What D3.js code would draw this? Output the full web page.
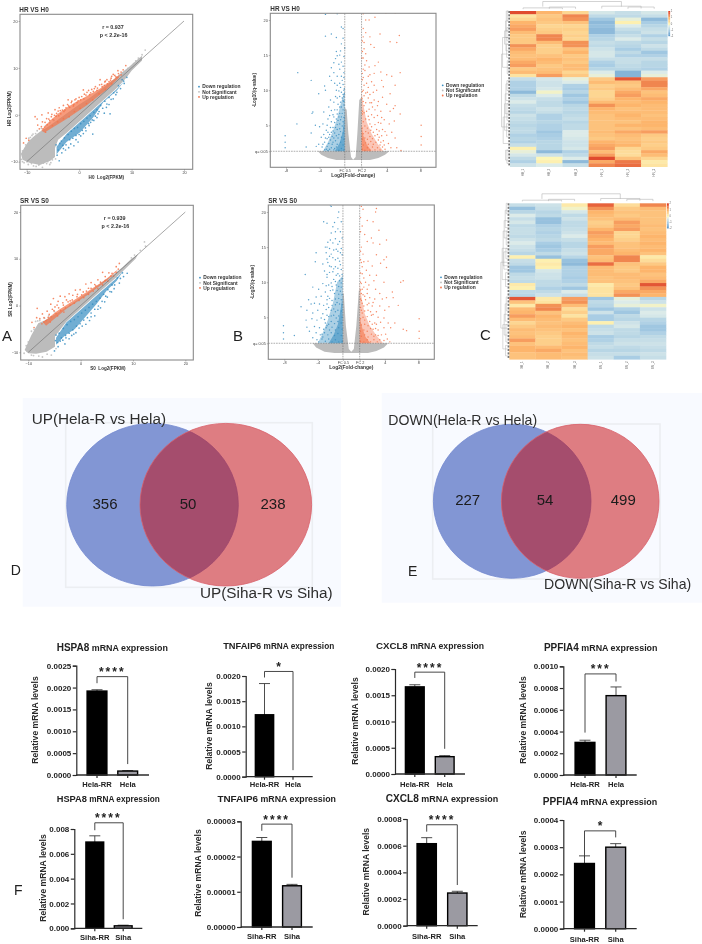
<!DOCTYPE html>
<html>
<head>
<meta charset="UTF-8">
<title>Hela-R and Siha-R expression panels</title>
<script src="https://d3js.org/d3.v7.min.js"></script>
<style>
  html, body { margin: 0; padding: 0; background: #fff; }
  svg { display: block; font-family: "Liberation Sans", Arial, sans-serif; }
</style>
</head>
<body>
<svg id="fig" width="702" height="944"></svg>
<script>
// ---- values ----

var legendNames = ["Down regulation", "Not Significant", "Up regulation"];
var scatterTicks = [-10, 0, 10, 20];
var volcanoXTicks = [-8, -4, -1, 1, 4, 8];
var volcanoYTicks = [1.3, 5, 10, 15, 20];

// scatter HR vs H0: dense clouds as envelopes, loose points one by one
var hrGreyCloud = [[-11.1,-8.3],[-10.4,-6.9],[-9.7,-5.7],[-8.6,-4.6],[-7.5,-3.6],[-6,-2.6],[-4,-1],[-2,.6],[0,2.2],[2,3.6],[4,5.3],[6,7],[8,8.9],[9.5,10.2],[11,11.7],[12,12.6],[12,11.6],[10,9.4],[9,7.9],[7.2,5.7],[4,2.5],[.8,-.7],[-2.4,-3.9],[-4,-5.3],[-4.6,-7.1],[-4.6,-9],[-5.5,-9.8],[-7.5,-10.7],[-9.5,-10.2],[-10.8,-9.6]];
var hrUpCloud = [[-7.2,-3.4],[-6.2,-2],[-5.3,-1],[-4,.3],[-2.4,1.5],[-.8,2.6],[.8,3.6],[2.4,4.6],[4,5.6],[5.2,6.6],[6.5,7.5],[7.8,8.6],[7.6,7.9],[5.3,5.4],[1.4,2],[-2.4,-.9],[-6.6,-3.8]];
var hrDownCloud = [[-4.3,-6.8],[-2.4,-4.1],[.8,-.9],[4,2.3],[7.2,5.5],[8.7,7.3],[7.2,5.2],[4.6,2.7],[2.7,-.5],[.2,-3.7],[-2.4,-5.8],[-4.3,-8.4]];
var hrUpPoints = [[-10.6,-6],[-10.1,-5],[-9.6,-5.4],[-8.4,-.4],[-8,-.9],[-7.9,-2.2],[-7.6,-3],[-7.1,0],[-7,-1.5],[-6.6,-2.6],[-6.2,-.8],[-5.9,.4],[-5.6,-1.2],[-5.2,.1],[-4.6,1.1],[-4.4,-.3],[-4,.8],[-3.8,1.5],[-3.5,.2],[-3,2],[-2.7,1],[-2.1,3.2],[-2,1.9],[-1.5,2.6],[-1,2.2],[-.6,3.4],[-.2,3],[.3,3.2],[.8,5.3],[1,4.4],[1.5,4.8],[2,4.3],[2.4,5.4],[2.9,5.6],[3.4,5.2],[4,7.5],[4.3,6.5],[4.8,6.3],[5,7.2],[5.4,6.6],[6,7.4],[6.2,8.2],[6.8,8.4],[7.2,8],[7.4,9.4],[8,9.1],[8.9,10.5],[8.4,9.6]];
var hrUpEdge = [[-7.2,-2.5],[-6.9,-3],[-6.5,-1.6],[-6.1,-2.1],[-5.8,-.9],[-5.3,-.4],[-5,-1],[-4.7,-.1],[-4.3,.3],[-3.9,-.2],[-3.6,.9],[-3.2,1],[-2.9,.7],[-2.5,1.5],[-2.2,2.2],[-1.8,1.6],[-1.4,2.9],[-1.1,1.9],[-.8,3.2],[-.4,2.6],[0,3.7],[.5,3.9],[.9,3.4],[1.3,4.2],[1.8,5.2],[2.2,4.7],[2.7,5],[3.1,6],[3.5,5.7],[3.9,6.4],[4.4,6],[4.9,7],[5.3,7.5],[5.7,7.1],[6.1,7.8],[6.5,8.6],[7,8.1],[7.5,8.8],[8,8.5],[-6.4,-3.7],[-5.1,-2.3],[-4.1,-1.5],[-3,-.8],[-1.9,-.4],[-.9,.7],[.2,1.4],[1.4,2.4],[2.6,3.2],[3.8,4.5],[5,5.4],[6.2,6.6]];
var hrDownPoints = [[-4.2,-8.6],[-3.8,-9.8],[-3.3,-8.1],[-3,-7.2],[-2.6,-7.5],[-2,-7],[-1.6,-6.2],[-1,-6.6],[-.6,-5.3],[-.2,-5.8],[.3,-4.5],[.8,-4],[1.3,-3.4],[2.6,-4.1],[1.9,-2.3],[2.2,-1.6],[2.8,-1.2],[3.4,-.6],[3.6,.2],[4.8,.35],[5.9,.2],[5.2,1.6],[5.7,2.2],[6.5,3.4],[7.2,4.8],[8.2,7.5],[9.1,8],[8.6,6.7]];
var hrDownEdge = [[-4.4,-6.4],[-4,-7.5],[-3.7,-6.1],[-3.4,-5.6],[-3.1,-6.5],[-2.8,-4.9],[-2.5,-6.4],[-2.1,-4.2],[-1.8,-5.3],[-1.5,-3.5],[-1.2,-5],[-.9,-2.9],[-.6,-4.4],[-.3,-2.7],[0,-4.2],[.3,-1.9],[.6,-3.3],[.9,-1.4],[1.2,-2.8],[1.5,-.7],[1.8,-1.9],[2.1,-.2],[2.5,-1.1],[2.8,.5],[3.1,-.3],[3.4,1.1],[3.8,.7],[4.1,2],[4.5,1.4],[4.9,2.9],[5.3,2.3],[5.7,3.7],[6.1,3.3],[6.6,4.7],[7,4.3],[7.5,6.2],[7.9,5.6],[8.5,7.2]];
var hrGreyPoints = [[-11,-9.5],[-10.8,-10],[-9.7,-10.6],[-8.7,-10.9],[-7.7,-10.7],[-7,-11.2],[-6,-10],[-5.4,-10.2],[-10.8,-7.7],[-10.2,-6.4],[-9.6,-5],[-9,-4.4],[-8.3,-4],[10.8,11.5],[11.3,12.1],[12,12.8],[12.6,13.8],[-8.8,-4.1],[-8,-3.4],[-7.2,-2.9],[-9.3,-4.8],[-6.8,-10.3],[-6.2,-10.4],[-5.6,-10.6],[-5.1,-9.6],[-4.5,-9.4],[-10.5,-10.2],[-9.9,-10],[-9.1,-10.4],[-8.2,-11],[-6.4,-2.3],[-5.6,-1.7],[-4.8,-1.2],[9.8,9.9],[10.4,10.9],[9.3,9.9]];

// scatter SR vs S0
var srGreyCloud = [[-10.7,-9.5],[-9.4,-6.3],[-8.1,-3.8],[-6.5,-3],[-4.5,-1.6],[-2.5,-.2],[0,1.7],[2,3.2],[4,4.9],[6,6.4],[8,8.2],[9.5,9.8],[11,11],[10.5,10],[8.5,7.8],[6.9,6.1],[3.7,3],[.5,-.2],[-2.7,-3.4],[-4.9,-6.6],[-4.9,-8.8],[-6.5,-9.9],[-8.5,-10.3],[-10,-10.2]];
var srUpCloud = [[-7.2,-3.6],[-6,-2.5],[-5,-1.6],[-4,-.8],[-2.7,.1],[-.8,1.5],[1,2.8],[2.4,3.8],[3.8,4.8],[5,5.8],[6.7,7.4],[7.2,7.7],[5,5.3],[1.1,2.1],[-2.7,-.7],[-6.6,-4.3]];
var srDownCloud = [[-4.7,-6.9],[-2.7,-3.6],[.5,-.4],[3.7,2.8],[6.9,5.9],[8.2,7.5],[6.9,5.3],[5,3.2],[3,.3],[1.1,-2.2],[-1.1,-5],[-3,-6.4],[-4.7,-8.4]];
var srUpPoints = [[-9.3,-3.6],[-8.9,-4.7],[-8.4,-2.6],[-8.3,-.6],[-7.8,-2.8],[-7.3,-1.8],[-7,-3.5],[-6.4,-1.2],[-6.2,-2.5],[-5.7,.3],[-5.4,-.8],[-5.2,1.5],[-4.9,-.3],[-4.5,.1],[-4.3,.9],[-3.9,2],[-3.4,.6],[-3,1.9],[-2.7,1.2],[-2.2,2.5],[-2,1],[-1.5,2.2],[-1,3.3],[-.6,2.4],[-.1,3.4],[.5,2.9],[1,4.6],[1.5,3.7],[2,4.9],[2.7,4.5],[3.3,5.5],[4.2,7.1],[4.7,6.2],[5.4,7],[6,6.9],[6.8,8.3],[7.4,9]];
var srUpEdge = [[-7,-2.6],[-6.6,-3.2],[-6,-1.9],[-5.6,-2.4],[-5.1,-1.1],[-4.7,-1.7],[-4.2,-.5],[-3.8,-1.1],[-3.3,.1],[-2.9,-.5],[-2.4,.8],[-2,.1],[-1.6,1.2],[-1.2,.5],[-.7,1.9],[-.3,1.1],[.2,2.3],[.6,1.7],[1.1,3.1],[1.5,2.4],[2,3.7],[2.4,3.1],[2.9,4.2],[3.3,3.6],[3.8,5],[4.2,4.4],[4.7,5.4],[5.2,5.2],[5.8,6.3],[6.3,6.3],[6.8,7.1],[7.2,7.8],[-7.4,-3.9],[-5.8,-3.5],[-4.4,-2.2],[-3.2,-1.4]];
var srDownPoints = [[-5,-9.7],[-4.8,-7.5],[-4.3,-8.8],[-3.9,-7.6],[-3.4,-7.4],[-3,-8.2],[-2.8,-6.9],[-2.2,-7.1],[-1.7,-6.4],[-1.3,-6.1],[-.9,-5.8],[-.3,-4.8],[.3,-4.4],[1,-4],[1.7,-3.2],[2,-2.4],[2.7,-2.2],[3.3,-.8],[3.8,-.5],[4.6,.8],[5.1,1.8],[5.9,2.9],[6.4,3.6],[7.4,4.8],[8.2,6.2],[8.9,6.9]];
var srDownEdge = [[-4.7,-6.3],[-4.4,-7.9],[-4.1,-5.9],[-3.7,-6.9],[-3.3,-4.9],[-2.9,-6.4],[-2.6,-4.1],[-2.2,-5.9],[-1.9,-3.4],[-1.5,-5.2],[-1.2,-3],[-.8,-4.4],[-.5,-2.4],[-.1,-3.9],[.2,-1.6],[.6,-3.1],[.9,-1],[1.3,-2.6],[1.6,-.4],[2,-1.6],[2.3,.3],[2.7,-.8],[3,.9],[3.4,-.1],[3.7,1.6],[4.1,.9],[4.4,2.4],[4.8,2],[5.2,3.4],[5.6,3],[6,4.4],[6.5,4.4],[7,5.9],[7.6,5.8],[8,7]];
var srGreyPoints = [[-10.8,-10.2],[-10.2,-9.8],[-9.4,-10.6],[-8,-10.8],[-7.3,-11],[-5.6,-10.6],[-10,-7.8],[-9.4,-5.5],[-8.9,-5.1],[-8.2,-3.3],[9.7,10.2],[10.3,10.8],[11.4,11.8],[12.4,12.7],[12.2,13.6],[-8.6,-3.4],[-7.8,-3.2],[-6.9,-2.7],[-6.1,-2.2],[-5,-1.3],[-6.4,-10.4],[-4.7,-9.2],[-9,-10.7],[-10.4,-8.6]];

// volcano HR vs H0
var greyWingsHr = [[-4.2,1.3],[-1,1.3],[-1,7.5],[-.77,7.2],[-.57,3.8],[-.25,.5],[0,.1],[.3,.5],[.5,3.8],[.73,8.6],[1,9],[1,1.3],[4.3,1.3],[3.8,.8],[3,.35],[2,.05],[-2,.05],[-3,.35],[-3.8,.8]];
var blueHaloHr = [[-1,1.3],[-3.6,1.3],[-3,2.6],[-2.4,4.2],[-1.9,6],[-1.5,8],[-1,10]];
var redHaloHr = [[1,1.3],[3.6,1.3],[2.9,2.4],[2.2,3.8],[1.6,5.5],[1.2,8],[1,10]];
var blueCoreHr = [[-1,1.3],[-2.2,1.3],[-1.6,2.5],[-1.25,4],[-1.05,6.5],[-1,9]];
var redCoreHr = [[1,1.3],[2.2,1.3],[1.6,2.3],[1.2,3.6],[1,5]];
var hrVolcanoDown = [[-3.3,20.8],[-1.9,20.9],[-6.6,12.5],[-5,11.4],[-4.1,9.5],[-4.8,6.9],[-4.9,6.7],[-6.7,5.2],[-5.6,1.9],[-5,3.9],[-4.5,5],[-4.4,2],[-3.3,17.7],[-2.6,18],[-1.4,19],[-1.2,18.8],[-2,17.5],[-1.4,16.6],[-1.6,15],[-2,15.5],[-2.1,14.5],[-1.7,13.7],[-1,16],[-2.6,13.2],[-2.8,12],[-2.3,12.5],[-1.6,13],[-1.1,12.5],[-1.3,11.4],[-3.4,10.6],[-3.3,10],[-2,10],[-1.6,11],[-2.6,11.4],[-2.7,8.6],[-2.1,9.1],[-1.6,9.1],[-1.1,10],[-1.05,9.5],[-3.5,6.9],[-2.9,7.6],[-2.3,6.2],[-1.9,6.6],[-1.6,7.6],[-1.2,8.5],[-1.1,7.9],[-4,4.8],[-3.6,5.2],[-3,4],[-2.4,4.7],[-1.8,5.7],[-1.4,6.2],[-3.8,3.3],[-3.4,2.6],[-2.9,2.4],[-3.1,3.1],[-2.5,3.4],[-2.2,3.9],[-1.8,3.2],[-1.6,4.5],[-4.1,2.3],[-3.7,1.9],[-3.2,1.6],[-2.6,1.8],[-3,1.4],[-2.2,1.7],[-8.1,3.5],[-8.1,2.6],[-8.1,1.8]];
var hrVolcanoDownLow = [[-1.1,1.5],[-1.4,1.7],[-1.7,1.45],[-2,1.9],[-2.3,1.5],[-2.5,2.3],[-2.8,1.6],[-3.1,2],[-3.4,1.5],[-3.6,2.3],[-1.2,2.2],[-1.5,2.6],[-1.9,2.3],[-2.1,2.8],[-2.4,2.6],[-2.7,2.9],[-2.9,3.3],[-3.3,3.2],[-3.5,3.7],[-1.1,3],[-1.4,3.3],[-1.7,3.7],[-2,3.5],[-2.3,3.2],[-2.6,4],[-2.8,3.7],[-3.2,4.3],[-1.2,3.9],[-1.5,4.1],[-1.9,4.4],[-2.1,4.7],[-2.4,4.2],[-2.7,4.7],[-3.1,5],[-1.1,4.6],[-1.3,4.9],[-1.6,5.2],[-1.9,5.1],[-2.2,5.4],[-2.6,5.5],[-3,5.9],[-1.2,5.5],[-1.5,5.8],[-1.7,6.2],[-2,5.9],[-2.4,6.5],[-2.8,6.4],[-1.1,6.1],[-1.3,6.7],[-1.6,6.7],[-1.9,7.2],[-2.2,7.2],[-2.6,7.1],[-1.2,7.2],[-1.4,7.6],[-1.8,8],[-2.3,8.3],[-1.1,8.4],[-1.3,8.9],[-1.5,8.3],[-1.9,8.9],[-1.2,9.4],[-1.4,9.7],[-1.7,9.9],[-1.1,9.1],[-1.05,10.2],[-1.2,10.8],[-1.5,10.4],[-1.9,10.7],[-2.2,11],[-1.1,11.8],[-1.4,12],[-1.9,12],[-1.2,13.4],[-1.4,14],[-1.9,14.9],[-1.1,14.8],[-2.3,13.9],[-1.5,15.6],[-1.2,17.4]];
var hrVolcanoUp = [[1.2,20.9],[1.5,20],[1.9,20],[2.6,20.4],[3.9,21],[5,21],[1.2,18.8],[1.5,18.2],[2,17.6],[3.2,18],[5.5,17.8],[4.4,16.9],[5.2,16.8],[1.1,17],[1.3,15.9],[2.1,16.5],[2.5,16.1],[1.1,15.5],[1.05,14.6],[1.6,14.2],[2.6,13.5],[3,14],[3.3,12.6],[1.2,13],[1.4,12.8],[2,12.2],[2.5,12.4],[4,12.2],[4.6,12],[5.6,12.5],[1.1,11.5],[1.6,11],[2.2,11.2],[3.4,11.4],[3.6,10.5],[5,10.7],[1.2,10],[1.5,9.6],[2.4,9.7],[2.8,10],[3.5,9],[4.4,9.5],[1.05,8.8],[1.8,8.9],[2.2,8.2],[3,8.4],[4,8],[5,7.8],[1.3,7.8],[1.6,7],[2.6,7.2],[3.3,7],[4.4,7],[4.8,7.4],[5.6,6.6],[1.1,6.6],[1.9,5.8],[2.5,6.1],[3,5.4],[3.7,5.8],[4.3,5.2],[4.9,5.6],[2.2,4.8],[2.8,4.4],[3.5,4.4],[4,3.6],[4.6,4],[5,3.2],[3.1,3.3],[3.6,2.8],[3.2,2.2],[4.2,2.4],[4.5,1.8],[3.8,1.6],[5.2,1.8],[5.7,1.4],[8.1,5],[8.1,3.4],[8.1,2.2]];
var hrVolcanoUpLow = [[1.1,1.6],[1.4,1.45],[1.7,1.8],[2,1.5],[2.3,1.9],[2.6,1.5],[2.9,1.8],[3.2,1.5],[3.5,1.9],[1.2,2.2],[1.5,2.5],[1.8,2.3],[2.1,2.7],[2.4,2.3],[2.7,2.6],[3,2.9],[3.3,2.6],[3.7,2.2],[1.1,3],[1.4,3.2],[1.7,3],[2,3.4],[2.3,3.1],[2.6,3.5],[2.9,3.7],[3.4,3.5],[1.2,3.8],[1.5,4.1],[1.8,3.9],[2.1,4.3],[2.4,4],[3.1,4.2],[3.8,4.1],[1.1,4.6],[1.4,4.9],[1.7,4.6],[2,5.2],[2.6,5.1],[3.3,5.3],[1.2,5.5],[1.5,5.9],[1.8,6.3],[2.2,6.5],[2.9,6.4],[3.4,6.1],[1.1,7],[1.3,6.8],[1.9,7.3],[2.3,7.6],[2.9,7.8],[1.2,8.4],[1.5,8.2],[2,8.2],[2.5,8.6],[1.3,9.2],[1.7,9.7],[2,9.4],[1.1,9.8],[1.3,10.7],[1.8,10.4],[2.5,10.7],[1.2,11.8],[1.8,12],[1.1,12.4],[1.4,13.6],[1.9,13.3],[1.2,14.6],[1.5,15.2],[1.3,16.8],[1.2,17.6]];

// volcano SR vs S0
var greyWingsSr = [[-4.6,1.3],[-1,1.3],[-1,8.4],[-.9,8.4],[-.65,3.8],[-.3,.5],[0,.1],[.3,.5],[.6,3.8],[.9,8.8],[1,8.9],[1,1.3],[4.4,1.3],[3.9,.7],[3,.2],[2,-.1],[-2,-.1],[-3.2,.1],[-4.2,.7]];
var blueHaloSr = [[-1,1.3],[-4,1.3],[-3.4,2.8],[-2.8,4.6],[-2.2,7],[-1.7,10],[-1,11]];
var redHaloSr = [[1,1.3],[3.8,1.3],[3,2.4],[2.2,3.8],[1.6,5.5],[1.2,8],[1,10]];
var blueCoreSr = [[-1,1.3],[-2.7,1.3],[-2.1,2.5],[-1.6,4],[-1.3,6],[-1.05,8]];
var redCoreSr = [[1,1.3],[2.3,1.3],[1.7,2.2],[1.3,3.5],[1,5]];
var srVolcanoDown = [[-2.5,21],[-2.4,20.8],[-1.5,20],[-1.6,19.2],[-3.3,18.6],[-2.9,18.4],[-2,18.5],[-1.2,18.6],[-2.4,17],[-1.9,17.2],[-1.3,17.2],[-1.1,16.3],[-2.8,15.7],[-2.2,15.6],[-1.6,15.4],[-3.1,15],[-2.6,14.8],[-1.8,14.7],[-1.2,14.8],[-3,14.2],[-4.2,14.2],[-4.3,12.9],[-2.2,13.5],[-1.6,13.4],[-1.1,13.9],[-3.4,12.6],[-2.8,12.8],[-2.4,12.2],[-1.9,12.2],[-1.3,12.5],[-3.2,11.6],[-2.6,11.4],[-1.6,11.2],[-1.1,11.1],[-5.5,11.1],[-2.9,10.7],[-2.1,10.4],[-1.4,10.2],[-3.4,9.8],[-3,9.5],[-2.4,9.9],[-1.8,9.6],[-1.2,9.3],[-4.6,9.3],[-3.9,9],[-3.1,8.6],[-2.5,8.8],[-2,8.4],[-1.5,8.3],[-4.2,7.9],[-3.6,8],[-2.9,7.5],[-2.3,7.4],[-1.7,7.1],[-5.1,7.5],[-4.8,6.9],[-4.4,7],[-3.8,6.9],[-3.3,6.7],[-2.7,6.4],[-2.1,6.2],[-6,6.5],[-5.3,6],[-4.6,5.6],[-4,6],[-3.4,5.5],[-2.9,5.3],[-2.4,5.2],[-4.7,4.8],[-4.1,4.6],[-3.6,4.9],[-3.1,4.2],[-5.4,4.6],[-5.3,3.6],[-4.4,3.7],[-3.8,3.5],[-3.3,3.3],[-2.9,3.8],[-5,3],[-4.2,2.8],[-3.7,2.5],[-6.8,2.4],[-4.6,2.1],[-4.1,1.8],[-3.5,1.9],[-3.9,1.5],[-8.1,3.8],[-8.1,2.8],[-8.1,1.9]];
var srVolcanoDownLow = [[-1.1,1.6],[-1.5,1.5],[-1.9,1.8],[-2.3,1.5],[-2.7,1.9],[-3.1,1.6],[-3.4,2.2],[-1.2,2.4],[-1.6,2.7],[-2,2.4],[-2.4,2.8],[-2.8,2.5],[-3.2,2.8],[-3.5,2.6],[-1.1,3.3],[-1.5,3.5],[-1.9,3.2],[-2.3,3.6],[-2.6,3.2],[-3,3.5],[-1.2,4.2],[-1.6,4.4],[-2,4.1],[-2.4,4.4],[-2.7,4],[-3.2,4.7],[-1.1,5],[-1.5,5.2],[-1.8,4.9],[-2.1,5.3],[-2.7,5.1],[-1.2,5.9],[-1.6,6],[-1.9,5.8],[-2.4,6],[-3,6.1],[-1.1,6.8],[-1.4,6.9],[-1.9,6.8],[-2.3,6.7],[-2.9,6.9],[-1.2,7.5],[-1.5,7.7],[-1.9,7.6],[-2.6,7.7],[-1.1,8.2],[-1.3,8.7],[-1.7,8.8],[-2.2,8.9],[-2.8,8],[-1.2,9.9],[-1.5,9.4],[-1.9,10.1],[-2.3,9.4],[-2.7,9.6],[-1.1,10.5],[-1.4,10.9],[-1.8,11],[-2.2,11.5],[-2.9,11.1],[-1.2,11.8],[-1.6,12],[-2.1,11.9],[-2.6,12.3],[-1.4,13],[-1.9,13.2],[-2.6,13.7],[-2.9,13.3],[-1.3,14.2],[-1.6,14.4],[-2.1,14.6],[-2.4,14],[-2.9,15],[-1.4,15.8],[-1.9,16.2],[-2.5,16],[-1.6,17.6],[-2.2,17.9]];
var srVolcanoUp = [[1.2,20.8],[1.4,20.4],[2.9,20],[3,20.5],[1.1,19.2],[1.9,18.8],[2.6,18.6],[1.3,18],[1.1,17.2],[3.3,17.4],[1.6,16.8],[2.4,16.3],[3.4,15.4],[1.9,15.8],[2.6,15.6],[4.2,16],[1.2,15],[1.1,14.4],[1.4,14],[3,13.9],[3.9,13.2],[4.2,13.6],[1.1,13.2],[2,13],[2.5,12.3],[3.5,12.7],[1.3,12.2],[1.8,11.7],[4.2,12.1],[1.1,11.3],[2.2,11],[3,11],[1.5,10.6],[2.7,10.2],[3.9,10],[5.9,10],[6.2,10.2],[1.1,10],[2.1,9.6],[1.3,9],[1.9,9],[2.9,9],[1.2,8.4],[1.6,8],[3.4,8.4],[4.9,8.6],[1.1,7.6],[2.2,7.8],[2.8,7.6],[3.7,7.6],[4.2,7.8],[5,7.8],[1.3,7],[1.9,6.8],[2.5,6.6],[3.4,6.6],[4.5,6.5],[5.6,6.7],[1.2,6],[2,6],[3,5.8],[4,6],[2.4,5.3],[3.2,5],[3.9,4.9],[1.6,4.6],[2.2,4.4],[2.8,4.2],[3.5,4.3],[4.4,4.2],[5.2,4.2],[2.6,3.3],[3.2,3.2],[3.9,3.5],[4.7,3.5],[2.9,2.5],[3.6,2.5],[4.1,2.6],[6.2,3.3],[6.6,3.1],[3.4,1.8],[3.9,1.7],[4.3,1.9],[4.6,1.5],[8.1,4.8],[8.1,3],[8.1,2]];
var srVolcanoUpLow = [[1.1,1.6],[1.5,1.5],[1.9,1.8],[2.3,1.5],[2.7,1.8],[3.1,1.5],[1.2,2.3],[1.6,2.5],[2,2.2],[2.4,2.6],[2.7,2.3],[3.2,2.4],[1.1,3],[1.5,3.2],[1.9,3],[2.3,3.4],[2.9,3.4],[1.2,3.9],[1.6,4],[2,3.8],[2.5,4],[3,4],[1.1,4.8],[1.4,5],[1.9,5.1],[2.6,5.4],[1.3,5.6],[1.6,5.9],[2.3,5.8],[1.1,6.4],[1.5,6.6],[2.1,7],[1.2,7.4],[1.7,7.5],[2.6,7.1],[1.4,8.2],[1.9,8.4],[1.1,8.9],[1.5,9.3],[1.2,9.8],[1.7,10],[1.3,11.2],[1.2,12.8],[1.5,12.9]];

// heatmaps, rows top to bottom, six samples each
var heatCols = [0, 1, 2, 3, 4, 5];
var heatRowsHr = [
  [1.9,1.0,.5,-.4,-.6,-.4],[.3,.7,1.4,-.7,-.7,-.6],[.5,.8,1.3,-1.1,-.2,-1.3],[1,.7,.8,-1.3,.1,-1],[1.1,.5,.5,-1.2,-.3,-.8],
  [1.2,.6,.6,-1.3,-.6,-.6],[.9,.7,.5,-1.3,-.8,-.5],[.7,1.4,.6,-.9,-.6,-.9],[.7,1.4,.5,-.8,-.3,-.6],[.7,.9,1.3,-.6,-.7,-.8],
  [1.3,.6,1.3,-.7,-.8,-.5],[1.1,.6,.8,-.5,-1,-.7],[.9,.6,1,-.4,-.7,-1.1],[.8,.8,.7,-.4,-.9,-.9],[.9,1,.8,-.6,-.6,-.6],
  [1.1,.9,.7,-.9,-.6,-.8],[1.2,.7,.9,-1,-.7,-.8],[.7,.8,.9,-.8,-.8,-.9],[.9,.9,.5,-.3,-1.4,-.3],[.3,1.2,.7,-.2,-1.4,-.2],
  [-.6,-.4,-.2,.7,1.8,1.2],[-.9,-.5,-.3,.9,.8,1.4],[-.9,-.5,-.9,.6,.7,1.4],[-.9,-.4,-1,.7,.9,1.1],[-1.3,-.1,-.8,.5,1.1,.8],
  [-.7,-.3,-1.1,.5,1.2,.9],[-.5,-.6,-.9,.6,1,1.1],[-.3,-.7,-1.1,.9,.9,1],[-.6,-.7,-.8,1.3,1,.9],[-.7,-.5,-.7,1,.8,.9],
  [-.8,-.6,-.8,.9,.9,.9],[-.5,-.9,-.7,.8,1,.8],[-.6,-.9,-.6,.8,.9,.9],[-.7,-.8,-.8,.8,.8,1],[-.8,-.9,-.7,.8,1,1],
  [-.7,-.9,-.7,.8,.8,.9],[-.7,-1.1,-.3,.9,1.1,1.2],[-.9,-1,-.3,.8,.9,.7],[-.8,-.9,-.4,.7,.8,.6],[-.9,-.8,-.5,1,.9,.7],
  [-.6,-.8,-.5,1.1,1,.6],[.1,-.8,-.4,1.2,.5,.7],[-.2,-1.3,-.9,.9,.4,1.1],[-.4,-.5,-.7,1.2,.4,.9],[-.7,0,-.3,1.9,.8,.5],
  [-.9,.1,-1.3,1.1,1.5,.2],[-.5,-.3,-.6,1.4,1.6,.3]
];
var heatRowsSr = [
  [-.6,-.5,.2,1.7,.4,1.4],[-1.2,-.6,-.1,1.3,.7,.9],[-.8,-.8,-.4,1,.8,.8],[-.3,-.7,-.7,.9,.7,.8],[-.6,-1.2,-.5,.8,.9,.8],
  [-.4,-1.2,-.7,.6,1.2,.8],[-.7,-.9,-.7,.7,1.1,.9],[-.6,-.8,-.6,1,1.2,.8],[-.6,-.9,-.5,1.2,.5,.9],[-.7,-.8,-.3,1.1,.5,1],
  [-.5,-.7,-.6,1,.6,.9],[-.3,-1,-.8,.9,.8,1],[-.5,-1.1,-.8,1.2,.8,.9],[-.6,-1,-.6,1.1,.9,1],[-.8,-.7,-.5,1.1,1,.8],
  [.1,-1.2,-.8,.8,1.4,.2],[-.6,.1,-1.2,.9,1.4,.4],[-.7,.2,-1.3,1.6,.8,.7],[-1.1,.1,-.9,.9,.7,1],[-1.1,-.4,-.9,.9,.7,1],
  [-.7,-.5,-.9,.9,.9,.8],[-.6,-.5,-1,.8,.9,.9],[-.7,-.7,-.9,.8,.8,1.1],[.2,-.7,-.7,.2,.7,1.8],[.1,-.9,-1.1,.3,.8,1.3],
  [-.7,-.7,-.3,.3,1.1,1.1],[-.8,-.5,-.6,.3,1.3,1],
  [1.8,.2,1.2,-1.1,-.2,-.8],[.8,.3,1.3,-.7,-.3,-.5],[.2,1.3,.9,-.8,-.2,-.1],[.9,1.4,.4,-1.1,-.9,-.5],[1,.8,.6,-.5,-1.1,-.3],
  [1.2,1,.3,-1,-.7,-.4],[.9,.9,.7,-1,-.8,-.8],[.5,.8,.9,.1,-.5,-.9],[.7,.9,1,-.7,-.4,-1.1],[.9,.8,.8,-.6,-.7,-1.1],
  [.8,.7,1,-.5,-.7,-.9],[.9,.6,.9,-1,-.8,-.7],[1.2,.6,.8,-.9,-.6,-.6],[.8,.6,.9,-.7,-.5,-.5],[1,.9,1,-.6,-.7,-.6],
  [1,1.1,.8,-.8,-.8,-.7],[.8,.9,.9,-.6,-.6,-.5],[.8,.9,.8,-.5,-1,-.6]
];
// top tree: [first col, second col, height], left tree: [depth, first row, last row]
var topTree = [[1.5,2.5,.35],[4.5,5.5,.35],[.5,2,.25],[3.5,5,.45],[1.25,4.25,1]];
var leftTreeHr = [[.15,0,3],[.3,0,6],[.2,5,9],[.4,3,8],[.25,10,14],[.35,8,12],[.55,6,10],[.15,15,19],[.85,8,17],[.2,21,24],[.35,22,27],[.2,28,33],[.45,25,31],[.25,34,38],[.55,28,36],[.75,32,40],[.2,42,46],[.4,42,45],[1,13,35]];
var leftTreeSr = [[.2,0,3],[.35,2,7],[.2,8,12],[.5,5,10],[.25,13,16],[.55,14,19],[.3,20,24],[.65,8,18],[.8,13,22],[.2,27,31],[.35,29,34],[.25,35,40],[.5,32,38],[.3,41,44],[.7,35,42],[1,17,36]];

// venn counts
var vennUpNames = ["UP(Hela-R vs Hela)", "UP(Siha-R vs Siha)"];
var vennUpCounts = [356, 50, 238];
var vennDownNames = ["DOWN(Hela-R vs Hela)", "DOWN(Siha-R vs Siha)"];
var vennDownCounts = [227, 54, 499];

// qPCR bars
var barGenes = ["HSPA8", "TNFAIP6", "CXCL8", "PPFIA4", "HSPA8", "TNFAIP6", "CXCL8", "PPFIA4"];
var barGroups = [["Hela-RR","Hela"],["Hela-RR","Hela"],["Hela-RR","Hela"],["Hela-RR","Hela"],["Siha-RR","Siha"],["Siha-RR","Siha"],["Siha-RR","Siha"],["Siha-RR","Siha"]];
var barValues = [[.00192,.00009],[.00123,0],[.00166,.00033],[.0003,.00073],[.00695,.0002],[.0000243,.0000117],[.000615,.000245],[.00024,.0003]];
var barErrorTops = [[.00195,.0001],[.00185,0],[.0017,.00035],[.00032,.00081],[.00745,.00025],[.0000254,.0000121],[.00066,.000258],[.000268,.000313]];
var barTicks = [
  [0,.0005,.001,.0015,.002,.0025],[0,.0005,.001,.0015,.002],[0,.0005,.001,.0015,.002],[0,.0002,.0004,.0006,.0008,.001],
  [0,.002,.004,.006,.008],[0,.00001,.00002,.00003],[0,.0002,.0004,.0006,.0008],[0,.0001,.0002,.0003,.0004]
];
var barTickDigits = [4, 4, 4, 4, 3, 5, 4, 4];
var barStars = ["****", "*", "****", "***", "****", "****", "****", "*"];
// bracket ends: [left foot, top, right foot]
var barBrackets = [[.0021,.00225,.00025],[.00197,.00209,.00013],[.00183,.00194,.00048],[.00039,.00093,.00086],[.0079,.0085,.00073],[.0000273,.0000292,.000014],[.000705,.000757,.000305],[.00026,.00036,.000336]];

// ---- where things sit on the page ----

var colors = { down: "#3a8fc2", none: "#bcbcbc", up: "#f4744a", frame: "#8a8a8a" };
var svg = d3.select("#fig");
var defs = svg.append("defs");
function softFilter(id, amount) {
  defs.append("filter").attr("id", id).attr("x", "-2%").attr("y", "-2%").attr("width", "104%").attr("height", "104%")
    .append("feGaussianBlur").attr("stdDeviation", amount);
}
softFilter("soft", 0.42);
softFilter("softer", 0.45);
var root = svg.append("g").attr("filter", "url(#soft)");
root.append("rect").attr("width", 702).attr("height", 944).attr("fill", "#fff");
// the top two rows are the most washed out in the source
var upper = root.append("g").attr("filter", "url(#softer)");

var clipCount = 0;
function frameClip(box) {
  clipCount++;
  var id = "clip" + clipCount;
  defs.append("clipPath").attr("id", id).append("rect")
    .attr("x", box.left).attr("y", box.top).attr("width", box.right - box.left).attr("height", box.bottom - box.top);
  return "url(#" + id + ")";
}

function blob(g, pts, x, y, color, opacity) {
  g.append("path")
    .attr("d", d3.line().x(function(d) { return x(d[0]); }).y(function(d) { return y(d[1]); }).curve(d3.curveLinearClosed)(pts))
    .attr("fill", color).attr("opacity", opacity);
}

function dots(g, pts, x, y, color, r) {
  g.append("g").selectAll("circle").data(pts).enter().append("circle")
    .attr("cx", function(d) { return x(d[0]); })
    .attr("cy", function(d) { return y(d[1]); })
    .attr("r", r).attr("fill", color).attr("opacity", 0.85);
}

function legend(pos) {
  var g = upper.append("g");
  [colors.down, colors.none, colors.up].forEach(function(c, i) {
    g.append("circle").attr("cx", pos.x).attr("cy", pos.y + i * 5.1).attr("r", 0.9).attr("fill", c);
    g.append("text").attr("x", pos.x + 3.2).attr("y", pos.y + i * 5.1 + 1.7).attr("font-size", 4.9)
      .attr("fill", "#333").attr("font-weight", "bold").text(legendNames[i]);
  });
}

function styleAxis(a) {
  a.select(".domain").remove();
  a.selectAll("line").attr("stroke", "#777").attr("stroke-width", 0.5);
  a.selectAll("text").attr("font-size", 3.8).attr("fill", "#444").attr("font-family", "Liberation Sans");
}

function drawScatter(p) {
  var x = d3.scaleLinear().domain([-10, 20]).range(p.xr);
  var y = d3.scaleLinear().domain([-10, 20]).range(p.yr);
  var b = p.box;
  var g = upper.append("g");
  var inner = g.append("g").attr("clip-path", frameClip(b));

  blob(inner, p.grey, x, y, colors.none, 1);
  dots(inner, p.greyPts, x, y, colors.none, 0.9);
  blob(inner, p.upC, x, y, colors.up, 0.72);
  blob(inner, p.downC, x, y, colors.down, 0.72);
  dots(inner, p.upPts, x, y, colors.up, 0.85);
  dots(inner, p.downPts, x, y, colors.down, 0.85);
  inner.append("line").attr("x1", x(-10)).attr("y1", y(-10)).attr("x2", x(20)).attr("y2", y(20))
    .attr("stroke", "#6d6d6d").attr("stroke-width", 0.6);

  g.append("rect").attr("x", b.left).attr("y", b.top).attr("width", b.right - b.left).attr("height", b.bottom - b.top)
    .attr("fill", "none").attr("stroke", colors.frame).attr("stroke-width", 1.1);
  g.append("g").attr("transform", "translate(0," + b.bottom + ")").call(d3.axisBottom(x).tickValues(scatterTicks).tickSize(1.5).tickPadding(1)).call(styleAxis);
  g.append("g").attr("transform", "translate(" + b.left + ",0)").call(d3.axisLeft(y).tickValues(scatterTicks).tickSize(1.5).tickPadding(1)).call(styleAxis);

  g.append("text").attr("x", b.left - 0.7).attr("y", p.titleY).attr("font-size", 6.4).attr("font-weight", "bold").attr("fill", "#333").text(p.title);
  g.append("text").attr("x", (x(-10) + x(20)) / 2 + 1).attr("y", b.bottom + 9.5).attr("text-anchor", "middle").attr("font-size", 4.6).attr("font-weight", "bold").attr("fill", "#333").attr("xml:space", "preserve").text(p.xName);
  g.append("text").attr("transform", "translate(" + (b.left - 9) + "," + (y(1.3) ) + ") rotate(-90)").attr("text-anchor", "middle").attr("font-size", 4.6).attr("font-weight", "bold").attr("fill", "#333").text(p.yName);
  g.append("text").attr("x", p.noteX).attr("y", b.top + 14.8).attr("text-anchor", "middle").attr("font-size", 5.4).attr("font-weight", "bold").attr("fill", "#333").text(p.r);
  g.append("text").attr("x", p.noteX + 0.7).attr("y", b.top + 22.3).attr("text-anchor", "middle").attr("font-size", 5.4).attr("font-weight", "bold").attr("fill", "#333").text("p < 2.2e-16");
  legend(p.legend);
}

function drawVolcano(p) {
  var x = d3.scaleLinear().domain([-8, 8]).range(p.xr);
  var y = d3.scaleLinear().domain([5, 20]).range(p.yr);
  var b = p.box;
  var g = upper.append("g");
  var inner = g.append("g").attr("clip-path", frameClip(b));

  blob(inner, p.grey, x, y, colors.none, 1);
  blob(inner, p.blueHalo, x, y, colors.down, 0.42);
  blob(inner, p.redHalo, x, y, colors.up, 0.4);
  blob(inner, p.blueCore, x, y, colors.down, 0.6);
  blob(inner, p.redCore, x, y, colors.up, 0.6);
  dots(inner, p.down, x, y, colors.down, 0.72);
  dots(inner, p.up, x, y, colors.up, 0.72);

  [-1, 1].forEach(function(v) {
    g.append("line").attr("x1", x(v)).attr("x2", x(v)).attr("y1", b.top).attr("y2", b.bottom)
      .attr("stroke", "#666").attr("stroke-width", 0.55).attr("stroke-dasharray", "1.6 1");
  });
  g.append("line").attr("x1", b.left).attr("x2", b.right).attr("y1", y(1.3)).attr("y2", y(1.3))
    .attr("stroke", "#666").attr("stroke-width", 0.55).attr("stroke-dasharray", "1.6 1");

  g.append("rect").attr("x", b.left).attr("y", b.top).attr("width", b.right - b.left).attr("height", b.bottom - b.top)
    .attr("fill", "none").attr("stroke", colors.frame).attr("stroke-width", 1.1);
  g.append("g").attr("transform", "translate(0," + b.bottom + ")")
    .call(d3.axisBottom(x).tickValues(volcanoXTicks).tickSize(1.5).tickPadding(1).tickFormat(function(d) { return d == -1 ? "FC 0.5" : d == 1 ? "FC 2" : d; }))
    .call(styleAxis);
  g.append("g").attr("transform", "translate(" + b.left + ",0)")
    .call(d3.axisLeft(y).tickValues(volcanoYTicks).tickSize(1.5).tickPadding(1).tickFormat(function(d) { return d == 1.3 ? "q= 0.05" : d; }))
    .call(styleAxis);

  g.append("text").attr("x", b.left).attr("y", p.titleY).attr("font-size", 6.4).attr("font-weight", "bold").attr("fill", "#333").text(p.title);
  g.append("text").attr("x", x(0)).attr("y", b.bottom + 10).attr("text-anchor", "middle").attr("font-size", 4.9).attr("font-weight", "bold").attr("fill", "#333").text("Log2(Fold-change)");
  g.append("text").attr("transform", "translate(" + (b.left - 14.5) + "," + y(10) + ") rotate(-90)").attr("text-anchor", "middle").attr("font-size", 4.6).attr("font-weight", "bold").attr("fill", "#333").text("-Log10(q-value)");
  legend(p.legend);
}

var heatColor = d3.scaleLinear().domain([-2, -1, -.3, 0, 1, 2])
  .range(["#4f8fc4", "#a9cde4", "#dcebe9", "#fdf6b8", "#fdb56c", "#dd3f26"]).clamp(true);

function drawHeat(p) {
  var x = d3.scaleBand().domain(heatCols).range(p.xr);
  var y = d3.scaleBand().domain(d3.range(p.rows.length)).range(p.yr);
  var g = upper.append("g");

  g.selectAll(".row").data(p.rows).enter().append("g").attr("class", "row")
    .attr("transform", function(d, i) { return "translate(0," + y(i) + ")"; })
    .selectAll("rect").data(function(d) { return d; }).enter().append("rect")
    .attr("x", function(d, i) { return x(i); }).attr("width", x.bandwidth() + 0.3).attr("height", y.bandwidth() + 0.3)
    .attr("fill", function(d) { return heatColor(d); });

  // row labels too small to read, they print as a dark comb on the left edge
  g.selectAll(".leaf").data(p.rows).enter().append("rect").attr("class", "leaf")
    .attr("x", p.xr[0] - 1.7).attr("width", 1.7)
    .attr("y", function(d, i) { return y(i); }).attr("height", y.bandwidth() * 0.6)
    .attr("fill", "#777");

  var treeTop = d3.scaleLinear().domain([0, 1]).range([p.yr[0] - 1, p.yr[0] - 9.5]);
  var colAt = d3.scaleLinear().domain([0, 6]).range(p.xr);
  p.top.forEach(function(t) {
    g.append("path").attr("fill", "none").attr("stroke", "#b5b5b5").attr("stroke-width", 0.6)
      .attr("d", "M" + colAt(t[0]) + "," + treeTop(t[2] * 0.4) + "V" + treeTop(t[2]) + "H" + colAt(t[1]) + "V" + treeTop(t[2] * 0.4));
  });
  var treeLeft = d3.scaleLinear().domain([0, 1]).range([p.xr[0] - 1.7, p.xr[0] - 8.5]);
  p.left.forEach(function(t) {
    g.append("path").attr("fill", "none").attr("stroke", "#aaa").attr("stroke-width", 0.45)
      .attr("d", "M" + treeLeft(0) + "," + y(t[1]) + "H" + treeLeft(t[0]) + "V" + y(t[2]) + "H" + treeLeft(0));
  });

  // colour key
  var key = d3.scaleLinear().domain([2, -2]).range([p.yr[0], p.yr[0] + 25]);
  d3.range(2, -2, -0.25).forEach(function(v) {
    g.append("rect").attr("x", p.xr[1] + 1).attr("width", 1.8).attr("y", key(v)).attr("height", key(v - 0.25) - key(v) + 0.2).attr("fill", heatColor(v));
  });
  [2, 1, 0, -1, -2].forEach(function(v) {
    g.append("text").attr("x", p.xr[1] + 3.5).attr("y", key(v) + 1).attr("font-size", 2.6).attr("fill", "#666").text(v);
  });
  p.names.forEach(function(n, i) {
    g.append("text").attr("transform", "translate(" + (x(i) + x.bandwidth() / 2 + 1) + "," + (p.yr[1] + 2) + ") rotate(-90)")
      .attr("text-anchor", "end").attr("font-size", 3.2).attr("fill", "#666").text(n);
  });
}

function drawVenn(p) {
  var g = root.append("g");
  g.append("rect").attr("x", p.bg[0]).attr("y", p.bg[1]).attr("width", p.bg[2]).attr("height", p.bg[3]).attr("fill", "#f8faff");
  g.append("rect").attr("x", p.box[0]).attr("y", p.box[1]).attr("width", p.box[2]).attr("height", p.box[3])
    .attr("fill", "none").attr("stroke", "#eceef2").attr("stroke-width", 1.6);
  var cx = d3.scalePoint().domain([0, 1]).range(p.cx);
  g.append("ellipse").attr("cx", cx(0)).attr("cy", p.cy).attr("rx", p.rx).attr("ry", p.ry)
    .attr("fill", "#8296d4").attr("stroke", "#7389cf").attr("stroke-width", 0.8);
  g.append("ellipse").attr("cx", cx(1)).attr("cy", p.cy).attr("rx", p.rx).attr("ry", p.ry)
    .attr("fill", "rgb(197,9,16)").attr("fill-opacity", 0.52).attr("stroke", "#d9606a").attr("stroke-width", 0.8);
  p.counts.forEach(function(c, i) {
    g.append("text").attr("x", p.numX[i]).attr("y", p.numY).attr("text-anchor", "middle").attr("font-size", p.numSize).attr("fill", "#1a1a1a").text(c);
  });
  g.append("text").attr("x", p.nameA[0]).attr("y", p.nameA[1]).attr("font-size", p.nameSize).attr("fill", "#2e2e2e").text(p.names[0]);
  g.append("text").attr("x", p.nameB[0]).attr("y", p.nameB[1]).attr("font-size", p.nameSize).attr("fill", "#2e2e2e").text(p.names[1]);
}

function drawBars(p, i) {
  var top = barTicks[i][barTicks[i].length - 1];
  var y = d3.scaleLinear().domain([0, top]).range([p.y0, p.yTop]);
  var step = p.c2 - p.c1;
  var x = d3.scaleBand().domain(barGroups[i]).range([p.c1 - step / 2, p.c2 + step / 2])
    .paddingInner(1 - p.w / step).paddingOuter((1 - p.w / step) / 2);
  var g = root.append("g");
  var cen = function(name) { return x(name) + x.bandwidth() / 2; };

  // error bars first, the bar covers the lower half
  barGroups[i].forEach(function(name, k) {
    if (barValues[i][k] == 0) return;
    var top = y(barErrorTops[i][k]);
    g.append("path").attr("fill", "none").attr("stroke", "#3a3a3a").attr("stroke-width", 0.9)
      .attr("d", "M" + cen(name) + "," + y(barValues[i][k]) + "V" + top + "M" + (cen(name) - 5.5) + "," + top + "H" + (cen(name) + 5.5));
  });
  g.selectAll(".bar").data(barValues[i]).enter().append("rect").attr("class", "bar")
    .attr("x", function(d, k) { return x(barGroups[i][k]) + 0.6; })
    .attr("y", function(d) { return y(d); })
    .attr("width", x.bandwidth() - 1.2)
    .attr("height", function(d) { return p.y0 - y(d); })
    .attr("fill", function(d, k) { return k == 0 ? "#000" : "#9b9aa2"; })
    .attr("stroke", "#000").attr("stroke-width", function(d) { return d == 0 ? 0 : 1.4; });

  var ya = g.append("g").attr("transform", "translate(" + p.axis + ",0)")
    .call(d3.axisLeft(y).tickValues(barTicks[i]).tickSize(3.5).tickPadding(1.5).tickFormat(function(d) { return d.toFixed(barTickDigits[i]); }));
  var xa = g.append("g").attr("transform", "translate(0," + p.y0 + ")")
    .call(d3.axisBottom(x).tickSize(3).tickPadding(1.5));
  xa.select(".domain").remove();
  g.append("line").attr("x1", p.axis).attr("x2", p.xEnd).attr("y1", p.y0).attr("y2", p.y0).attr("stroke", "#2b2b2b").attr("stroke-width", 1.3);
  [ya, xa].forEach(function(a) {
    a.selectAll(".domain, line").attr("stroke", "#2b2b2b").attr("stroke-width", 1.2);
    a.selectAll("text").attr("font-size", 8).attr("font-weight", "bold").attr("fill", "#222").attr("font-family", "Liberation Sans");
  });
  xa.selectAll("text").attr("font-size", 7.6).attr("dy", p.labelDy);

  var br = barBrackets[i];
  g.append("path").attr("fill", "none").attr("stroke", "#333").attr("stroke-width", 0.9)
    .attr("d", "M" + cen(barGroups[i][0]) + "," + y(br[0]) + "V" + y(br[1]) + "H" + cen(barGroups[i][1]) + "V" + y(br[2]));
  g.append("text").attr("x", p.title).attr("y", y(br[1]) - 0.6).attr("text-anchor", "middle")
    .attr("font-size", 12).attr("font-weight", "bold").attr("letter-spacing", barStars[i].length > 1 ? 2 : 0).attr("fill", "#222").text(barStars[i]);

  var t = g.append("text").attr("x", p.title).attr("y", p.titleY).attr("text-anchor", "middle").attr("font-weight", "bold").attr("fill", "#222");
  t.append("tspan").attr("font-size", 9 * p.ts).text(barGenes[i]);
  t.append("tspan").attr("font-size", 8 * p.ts).text(" mRNA expression");
  g.append("text").attr("transform", "translate(" + p.yName[0] + "," + p.yName[1] + ") rotate(-90)").attr("text-anchor", "middle")
    .attr("font-size", 8.6).attr("font-weight", "bold").attr("fill", "#2a2a2a").text("Relative mRNA levels");
}

// ---- panels ----

drawScatter({ title: "HR VS H0", titleY: 12.2, xName: "H0  Log2(FPKM)", yName: "HR  Log2(FPKM)", r: "r =  0.937", noteX: 113,
  box: { left: 20, right: 192.7, top: 14.3, bottom: 169.3 }, xr: [26.7, 184], yr: [161.7, 21], legend: { x: 199, y: 86.7 },
  grey: hrGreyCloud, upC: hrUpCloud, downC: hrDownCloud, upPts: hrUpPoints.concat(hrUpEdge), downPts: hrDownPoints.concat(hrDownEdge), greyPts: hrGreyPoints });
drawScatter({ title: "SR VS S0", titleY: 202.6, xName: "S0  Log2(FPKM)", yName: "SR  Log2(FPKM)", r: "r =  0.939", noteX: 114.7,
  box: { left: 20.7, right: 193.3, top: 205.3, bottom: 360 }, xr: [28.3, 185.3], yr: [352.3, 212], legend: { x: 200, y: 277.7 },
  grey: srGreyCloud, upC: srUpCloud, downC: srDownCloud, upPts: srUpPoints.concat(srUpEdge), downPts: srDownPoints.concat(srDownEdge), greyPts: srGreyPoints });

drawVolcano({ title: "HR VS H0", titleY: 10.6, box: { left: 270.3, right: 436, top: 13.3, bottom: 167.3 }, xr: [286, 420.3], yr: [125.3, 20],
  grey: greyWingsHr, blueHalo: blueHaloHr, redHalo: redHaloHr, blueCore: blueCoreHr, redCore: redCoreHr, down: hrVolcanoDown.concat(hrVolcanoDownLow), up: hrVolcanoUp.concat(hrVolcanoUpLow), legend: { x: 442.7, y: 85.3 } });
drawVolcano({ title: "SR VS S0", titleY: 202.6, box: { left: 268.3, right: 434.3, top: 205, bottom: 359.3 }, xr: [284.3, 418.3], yr: [317.3, 212],
  grey: greyWingsSr, blueHalo: blueHaloSr, redHalo: redHaloSr, blueCore: blueCoreSr, redCore: redCoreSr, down: srVolcanoDown.concat(srVolcanoDownLow), up: srVolcanoUp.concat(srVolcanoUpLow), legend: { x: 441, y: 277.3 } });

drawHeat({ rows: heatRowsHr, xr: [510, 667.3], yr: [11, 166.7], top: topTree, left: leftTreeHr, names: ["H0_1", "H0_2", "H0_3", "HR_1", "HR_2", "HR_3"] });
drawHeat({ rows: heatRowsSr, xr: [509.3, 666], yr: [203.3, 359.3], top: topTree, left: leftTreeSr, names: ["S0_1", "S0_2", "S0_3", "SR_1", "SR_2", "SR_3"] });

drawVenn({ bg: [22.7, 398, 318.3, 208.7], box: [65.7, 422.7, 246.6, 164.6], cx: [152.5, 225.8], cy: 504.7, rx: 85.8, ry: 81.3,
  counts: vennUpCounts, numX: [105, 188, 273], numY: 508.5, numSize: 15, names: vennUpNames, nameSize: 15.3, nameA: [31.7, 424], nameB: [200, 598] });
drawVenn({ bg: [381.7, 393, 320.3, 209.7], box: [432.7, 424, 227.3, 155], cx: [512.2, 580.2], cy: 501.3, rx: 78.8, ry: 77,
  counts: vennDownCounts, numX: [467.7, 545, 623.3], numY: 504.8, numSize: 15, names: vennDownNames, nameSize: 14.1, nameA: [388.3, 425], nameB: [544, 589] });

var barLayout = [
  { axis: 76.3, xEnd: 149, y0: 775, yTop: 665.7, c1: 97, c2: 127.7, w: 21, title: 112.3, titleY: 651, ts: 1.11, yName: [38, 720], labelDy: "1em" },
  { axis: 245.7, xEnd: 312.7, y0: 776.7, yTop: 676, c1: 264.5, c2: 293, w: 19.5, title: 278.7, titleY: 649.3, ts: 1.03, yName: [212, 726], labelDy: "0.8em" },
  { axis: 395, xEnd: 465, y0: 774, yTop: 669, c1: 414.8, c2: 444.7, w: 20, title: 430, titleY: 649.3, ts: 1.08, yName: [358, 721], labelDy: "1.1em" },
  { axis: 563.3, xEnd: 636.7, y0: 775, yTop: 666.3, c1: 585, c2: 616, w: 21, title: 600.7, titleY: 651, ts: 1.11, yName: [526, 720], labelDy: "1em" },
  { axis: 74.3, xEnd: 142.3, y0: 928.3, yTop: 829, c1: 94.8, c2: 123.2, w: 19, title: 108.3, titleY: 801.7, ts: 1.03, yName: [46.3, 878], labelDy: "1em" },
  { axis: 240.7, xEnd: 312.7, y0: 927, yTop: 821.3, c1: 261.8, c2: 292, w: 20, title: 276.7, titleY: 802, ts: 1.1, yName: [201.3, 873], labelDy: "1em" },
  { axis: 406.7, xEnd: 477.7, y0: 925.7, yTop: 819, c1: 426.7, c2: 457.3, w: 20.5, title: 442, titleY: 802, ts: 1.12, yName: [368.7, 871.7], labelDy: "1.1em" },
  { axis: 563.3, xEnd: 636.7, y0: 928.7, yTop: 820, c1: 584.5, c2: 615.7, w: 21, title: 600, titleY: 805, ts: 1.12, yName: [525.7, 874.3], labelDy: "1.1em" }
];
barLayout.forEach(function(p, i) { drawBars(p, i); });

// panel letters
var panelLetters = ["A", "B", "C", "D", "E", "F"];
var letterSpots = [[2, 340.7], [233, 340.7], [480, 340], [10.7, 575], [408, 575.7], [14, 895]];
panelLetters.forEach(function(l, i) {
  root.append("text").attr("x", letterSpots[i][0]).attr("y", letterSpots[i][1]).attr("font-size", i < 3 ? 15 : 14).attr("fill", "#222").text(l);
});
</script>
</body>
</html>
